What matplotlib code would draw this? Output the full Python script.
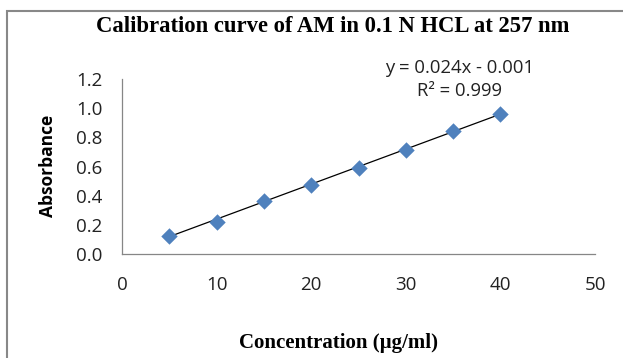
import matplotlib.pyplot as plt
from matplotlib.patches import Rectangle

# concentration (ug/ml) and absorbance
conc = [5, 10, 15, 20, 25, 30, 35, 40]
absorb = [0.125, 0.217, 0.363, 0.473, 0.592, 0.713, 0.843, 0.958]
slope, intercept = 0.024, -0.001
x_ticks = [0, 10, 20, 30, 40, 50]
y_ticks = [0.0, 0.2, 0.4, 0.6, 0.8, 1.0, 1.2]

fig = plt.figure(figsize=(6.23, 3.58), dpi=100)
fig.patch.set_facecolor("white")

# chart frame (right/bottom edges are cut off in the original)
fig.patches.append(Rectangle((7 / 623, -0.1), 1.2, (358 - 11) / 358 + 0.1,
                             transform=fig.transFigure, fill=False,
                             edgecolor="#888888", linewidth=1.5))

ax = fig.add_axes([122 / 623, (358 - 254) / 358, (595 - 122) / 623, (254 - 79) / 358])

fit_y = [slope * c + intercept for c in (conc[0], conc[-1])]
ax.plot([conc[0], conc[-1]], fit_y, color="black", linewidth=0.9, zorder=2)
ax.scatter(conc, absorb, marker="D", s=70, color="#4F81BD", zorder=3, linewidths=0)

ax.set_xlim(0, 50)
ax.set_ylim(0, 1.2)
ax.set_xticks(x_ticks)
ax.set_yticks(y_ticks)
ax.set_xticklabels([str(t) for t in x_ticks])
ax.set_yticklabels([f"{t:.1f}" for t in y_ticks])
ax.tick_params(length=0, labelsize=13.5, labelcolor="#222222")
ax.tick_params(axis="y", pad=14)
ax.tick_params(axis="x", pad=16)
for lab in ax.get_xticklabels() + ax.get_yticklabels():
    lab.set_fontfamily("Open Sans")

for side in ("top", "right"):
    ax.spines[side].set_visible(False)
for side in ("left", "bottom"):
    ax.spines[side].set_color("#868686")
    ax.spines[side].set_linewidth(0.9)

fig.text(333 / 623, (358 - 27) / 358, "Calibration curve of AM in 0.1 N HCL at 257 nm",
         ha="center", va="center", fontsize=16.3, fontweight="bold",
         family="Liberation Serif")
fig.text(339 / 623, (358 - 343) / 358, "Concentration (\u00b5g/ml)",
         ha="center", va="center", fontsize=15, fontweight="bold",
         family="Liberation Serif")
fig.text(48 / 623, (358 - 166) / 358, "Absorbance", rotation=90,
         ha="center", va="center", fontsize=12.5, fontweight="bold",
         family="Open Sans")

fig.text(460 / 623, (358 - 68) / 358, "y = 0.024x - 0.001", ha="center",
         va="center", fontsize=13.3, family="Open Sans", color="#222222")
fig.text(460 / 623, (358 - 91) / 358, "R\u00b2 = 0.999", ha="center",
         va="center", fontsize=13.3, family="Open Sans", color="#222222")

fig.savefig("out.png", dpi=100)
